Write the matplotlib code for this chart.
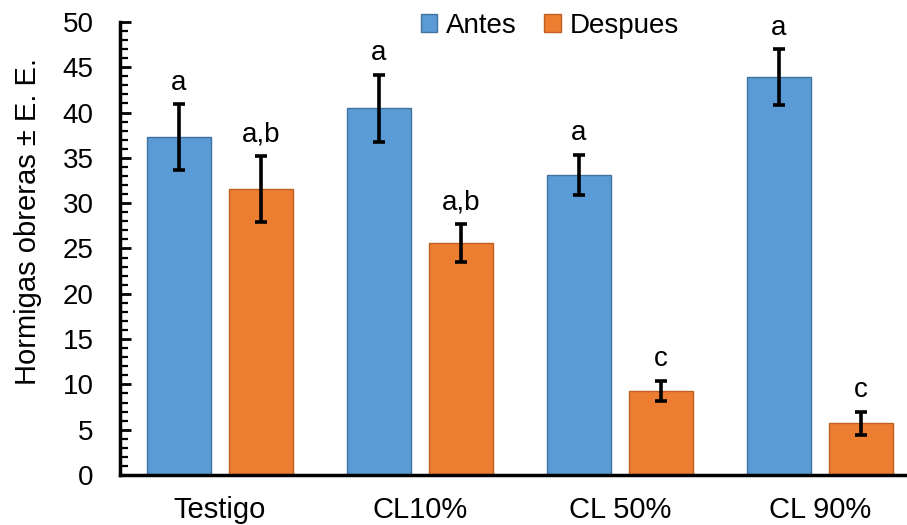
import numpy as np
import matplotlib
matplotlib.use('Agg')
import matplotlib.pyplot as plt
from matplotlib.ticker import MultipleLocator

# === DATOS ===
tratamientos = ['Testigo', 'CL10%', 'CL 50%', 'CL 90%']
antes = [37.3, 40.5, 33.1, 43.9]
antes_ee = [3.6, 3.7, 2.25, 3.1]
despues = [31.6, 25.6, 9.3, 5.7]
despues_ee = [3.65, 2.1, 1.1, 1.3]
letras_antes = ['a', 'a', 'a', 'a']
letras_despues = ['a,b', 'a,b', 'c', 'c']

AZUL = '#5B9BD5'
NARANJA = '#ED7D31'

plt.rcParams['font.family'] = ['Liberation Sans', 'DejaVu Sans']

fig = plt.figure(figsize=(9.07, 5.25), dpi=100)
ax = fig.add_axes([0.1323, 0.0952, 0.8677, 0.863])

x = np.arange(len(tratamientos))
ancho = 0.32
sep = 0.41  # distancia entre centros de barras

err_kw = dict(ecolor='black', elinewidth=2.6, capsize=4.5, capthick=2.6)
ax.bar(x - sep / 2, antes, ancho, yerr=antes_ee, color=AZUL,
       edgecolor='#41719C', linewidth=1, label='Antes', error_kw=err_kw)
ax.bar(x + sep / 2, despues, ancho, yerr=despues_ee, color=NARANJA,
       edgecolor='#C0601F', linewidth=1, label='Despues', error_kw=err_kw)

# letras de significancia
for i in range(len(tratamientos)):
    ax.annotate(letras_antes[i], (x[i] - sep / 2, antes[i] + antes_ee[i]),
                xytext=(0, 6), textcoords='offset points',
                ha='center', va='bottom', fontsize=20)
    ax.annotate(letras_despues[i], (x[i] + sep / 2, despues[i] + despues_ee[i]),
                xytext=(0, 6), textcoords='offset points',
                ha='center', va='bottom', fontsize=20)

ax.set_xlim(-0.5, 3.435)
ax.set_ylim(0, 50)
ax.set_xticks(x)
ax.set_xticklabels(tratamientos, fontsize=21)
ax.yaxis.set_major_locator(MultipleLocator(5))
ax.yaxis.set_minor_locator(MultipleLocator(1))
ax.tick_params(axis='y', which='major', direction='in', length=8, width=2,
               labelsize=20, pad=19)
ax.tick_params(axis='y', which='minor', direction='in', length=6, width=1.6)
ax.tick_params(axis='x', length=0, pad=15)

for lado in ['top', 'right']:
    ax.spines[lado].set_visible(False)
for lado in ['left', 'bottom']:
    ax.spines[lado].set_linewidth(2.5)
    ax.spines[lado].set_color('black')

ax.set_ylabel('Hormigas obreras ± E. E.', fontsize=21)
ax.yaxis.set_label_coords(-0.099, 0.56)

ax.legend(loc='center', bbox_to_anchor=(0.546, 0.991), ncol=2, frameon=False,
          fontsize=20, handlelength=0.6, handleheight=0.6, handletextpad=0.3,
          columnspacing=1.0, borderpad=0)

fig.savefig('out.png', dpi=100)
